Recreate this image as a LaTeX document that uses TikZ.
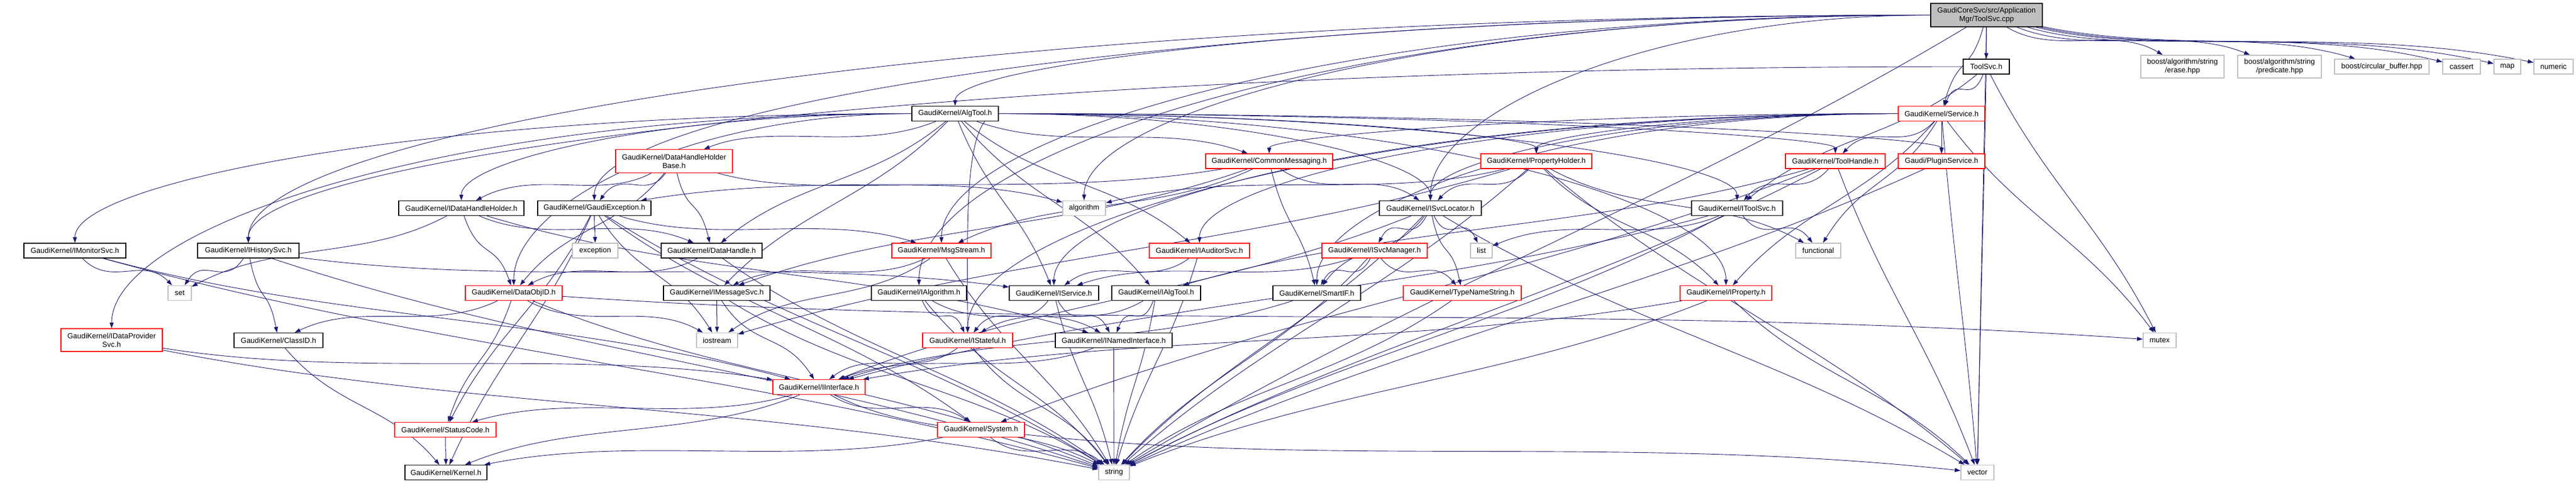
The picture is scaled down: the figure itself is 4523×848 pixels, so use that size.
\documentclass[tikz,border=0pt]{standalone}
\usepackage{fontspec}
\newfontfamily\nf{Liberation Sans}
\usetikzlibrary{arrows.meta,calc}
\pgfdeclarelayer{bg}
\pgfsetlayers{bg,main}
\definecolor{edgec}{RGB}{25,25,112}
\definecolor{gbord}{RGB}{191,191,191}
\definecolor{rootf}{RGB}{191,191,191}
\tikzset{
  nb/.style={draw, fill=white, inner sep=0pt, line width=1.2pt, minimum height=26pt, align=center, font=\nf\fontsize{13}{15}\selectfont},
  bnode/.style={nb, draw=black},
  rnode/.style={nb, draw=red},
  gnode/.style={nb, draw=gbord, line width=1.6pt},
  rootnode/.style={nb, draw=black, fill=rootf},
  ed/.style={draw=edgec, line width=0.9pt, -{Triangle[length=10pt,width=7pt]}}
}
\newcommand\E[2]{\draw[ed] (#1) .. controls ($(#1)!0.35!(#2)+(0,40)$) and ($(#2)!0.35!(#1)+(0,-40)$) .. (#2);}
\newcommand\LE[2]{\path ($(#1)!0.6!(#2)$) coordinate (pA) ($(#1)!0.5!(#2)$) coordinate (pB);
  \draw[ed] (#1) .. controls (#1 -| pA) and (#2 |- pB) .. (#2);}
\begin{document}
\begin{tikzpicture}[x=1pt,y=-1pt]
\useasboundingbox (0,0) rectangle (4523,848);
% row 0
\node[rootnode, minimum width=196pt, minimum height=41pt] (cpp) at (3488,26.5) {GaudiCoreSvc/src/Application\\Mgr/ToolSvc.cpp};
% row 1
\node[bnode, minimum width=81pt] (tsh) at (3487.5,117) {ToolSvc.h};
\node[gnode, minimum width=146pt, minimum height=40pt] (erase) at (3832,117) {boost/algorithm/string\\/erase.hpp};
\node[gnode, minimum width=147pt, minimum height=40pt] (pred) at (4002.5,117) {boost/algorithm/string\\/predicate.hpp};
\node[gnode, minimum width=166pt] (circ) at (4182,117) {boost/circular\_buffer.hpp};
\node[gnode, minimum width=66pt] (cassert) at (4322,117) {cassert};
\node[gnode, minimum width=47pt] (map) at (4402.5,117) {map};
\node[gnode, minimum width=69pt] (numeric) at (4483.5,117) {numeric};
% row 2
\node[bnode, minimum width=152pt] (algtool) at (1677,199.5) {GaudiKernel/AlgTool.h};
\node[rnode, minimum width=152pt] (service) at (3409,199.5) {GaudiKernel/Service.h};
% row 3
\node[rnode, minimum width=205pt, minimum height=41pt] (dhhb) at (1183.5,283) {GaudiKernel/DataHandleHolder\\Base.h};
\node[rnode, minimum width=223pt] (commsg) at (2228.5,283) {GaudiKernel/CommonMessaging.h};
\node[rnode, minimum width=195pt] (propholder) at (2697.5,283) {GaudiKernel/PropertyHolder.h};
\node[rnode, minimum width=175pt] (toolhandle) at (3222.5,283) {GaudiKernel/ToolHandle.h};
\node[rnode, minimum width=152pt] (plugin) at (3409,283) {Gaudi/PluginService.h};
% row 4
\node[bnode, minimum width=220pt] (idhh) at (810,365.5) {GaudiKernel/IDataHandleHolder.h};
\node[bnode, minimum width=199pt] (gexc) at (1043.5,365.5) {GaudiKernel/GaudiException.h};
\node[gnode, minimum width=75pt] (algorithm) at (1903.5,365.5) {algorithm};
\node[bnode, minimum width=179pt] (isvcloc) at (2511.5,365.5) {GaudiKernel/ISvcLocator.h};
\node[bnode, minimum width=160pt] (itoolsvc) at (3050,365.5) {GaudiKernel/IToolSvc.h};
% row 5
\node[bnode, minimum width=179pt] (imon) at (131.5,440) {GaudiKernel/IMonitorSvc.h};
\node[bnode, minimum width=178pt] (ihist) at (436,440) {GaudiKernel/IHistorySvc.h};
\node[gnode, minimum width=80pt] (exception) at (1045,440) {exception};
\node[bnode, minimum width=177pt] (dhandle) at (1249.5,440) {GaudiKernel/DataHandle.h};
\node[rnode, minimum width=174pt] (msgstream) at (1653,440) {GaudiKernel/MsgStream.h};
\node[rnode, minimum width=176pt] (iaud) at (2106,440) {GaudiKernel/IAuditorSvc.h};
\node[rnode, minimum width=185pt] (isvcman) at (2413.5,440) {GaudiKernel/ISvcManager.h};
\node[gnode, minimum width=38pt] (list) at (2601,440) {list};
\node[gnode, minimum width=79pt] (functional) at (3192.5,440) {functional};
% row 6
\node[gnode, minimum width=41pt] (set) at (315.5,514.5) {set};
\node[rnode, minimum width=170pt] (dataobjid) at (902,514.5) {GaudiKernel/DataObjID.h};
\node[bnode, minimum width=187pt] (imsgsvc) at (1258.5,514.5) {GaudiKernel/IMessageSvc.h};
\node[bnode, minimum width=167pt] (ialg) at (1613.5,514.5) {GaudiKernel/IAlgorithm.h};
\node[bnode, minimum width=157pt] (iservice) at (1850.5,514.5) {GaudiKernel/IService.h};
\node[bnode, minimum width=156pt] (ialgtool) at (2030,514.5) {GaudiKernel/IAlgTool.h};
\node[bnode, minimum width=154pt] (smartif) at (2312,514.5) {GaudiKernel/SmartIF.h};
\node[rnode, minimum width=207pt] (tns) at (2567.5,514.5) {GaudiKernel/TypeNameString.h};
\node[rnode, minimum width=161pt] (iprop) at (3030.5,514.5) {GaudiKernel/IProperty.h};
% row 7
\node[rnode, minimum width=178pt, minimum height=40pt] (idps) at (196,597) {GaudiKernel/IDataProvider\\Svc.h};
\node[bnode, minimum width=156pt] (classid) at (489,597.5) {GaudiKernel/ClassID.h};
\node[gnode, minimum width=72pt] (iostream) at (1259,597.5) {iostream};
\node[rnode, minimum width=158pt] (istateful) at (1699,597.5) {GaudiKernel/IStateful.h};
\node[bnode, minimum width=205pt] (inamed) at (1955.5,597.5) {GaudiKernel/INamedInterface.h};
\node[gnode, minimum width=58pt] (mutex) at (3792,597.5) {mutex};
% row 8
\node[rnode, minimum width=162pt] (iinterface) at (1438,679.5) {GaudiKernel/IInterface.h};
% row 9
\node[rnode, minimum width=178pt] (statuscode) at (782,754.5) {GaudiKernel/StatusCode.h};
\node[rnode, minimum width=153pt] (system) at (1722.5,754.5) {GaudiKernel/System.h};
% row 10
\node[bnode, minimum width=144pt] (kernel) at (783,829.5) {GaudiKernel/Kernel.h};
\node[gnode, minimum width=54pt] (string) at (1956,829.5) {string};
\node[gnode, minimum width=58pt] (vector) at (3472,829.5) {vector};

\begin{pgfonlayer}{bg}
% ToolSvc.cpp
\E{cpp}{tsh}\E{cpp}{service}\LE{cpp}{algtool}\LE{cpp}{gexc}\LE{cpp}{ihist}
\LE{cpp}{msgstream}\LE{cpp}{algorithm}\LE{cpp}{isvcloc}\LE{cpp}{ialg}
\E{cpp}{erase}\E{cpp}{pred}\E{cpp}{circ}\E{cpp}{cassert}\E{cpp}{map}\E{cpp}{numeric}
\E{cpp}{string}\E{cpp}{vector}
% ToolSvc.h
\E{tsh}{itoolsvc}\E{tsh}{service}\LE{tsh}{ihist}\E{tsh}{mutex}\E{tsh}{vector}
% AlgTool.h
\LE{algtool}{imon}\LE{algtool}{idps}\LE{algtool}{istateful}\LE{algtool}{dataobjid}
\LE{algtool}{idhh}\E{algtool}{dhhb}\E{algtool}{dhandle}\E{algtool}{commsg}
\LE{algtool}{propholder}\LE{algtool}{toolhandle}\LE{algtool}{plugin}\LE{algtool}{isvcloc}
\LE{algtool}{itoolsvc}\LE{algtool}{iprop}\E{algtool}{iaud}\E{algtool}{iservice}
\E{algtool}{ialgtool}\E{algtool}{imsgsvc}
% Service.h
\LE{service}{commsg}\LE{service}{propholder}\E{service}{toolhandle}\E{service}{plugin}
\LE{service}{isvcloc}\LE{service}{iaud}\E{service}{iprop}\LE{service}{iservice}
\LE{service}{istateful}\LE{service}{smartif}\E{service}{mutex}\E{service}{vector}
\E{service}{functional}
% DataHandleHolderBase.h
\E{dhhb}{idhh}\E{dhhb}{gexc}\E{dhhb}{dataobjid}\E{dhhb}{dhandle}\E{dhhb}{algorithm}
% CommonMessaging.h
\E{commsg}{gexc}\E{commsg}{isvcloc}\E{commsg}{smartif}\E{commsg}{msgstream}\E{commsg}{imsgsvc}
% PropertyHolder.h
\E{propholder}{algorithm}\E{propholder}{iostream}\E{propholder}{isvcloc}\E{propholder}{iprop}
\E{propholder}{functional}\E{propholder}{string}\E{propholder}{vector}
% ToolHandle.h
\E{toolhandle}{itoolsvc}\E{toolhandle}{ialgtool}\E{toolhandle}{system}\E{toolhandle}{string}\E{toolhandle}{vector}
% PluginService.h
\E{plugin}{string}
% IDataHandleHolder.h
\E{idhh}{set}\E{idhh}{dataobjid}\E{idhh}{dhandle}\E{idhh}{inamed}
% GaudiException.h
\E{gexc}{exception}\E{gexc}{msgstream}\E{gexc}{iostream}\E{gexc}{statuscode}
\E{gexc}{system}\E{gexc}{kernel}\E{gexc}{string}
% ISvcLocator.h
\E{isvcloc}{smartif}\E{isvcloc}{isvcman}\E{isvcloc}{list}\E{isvcloc}{tns}
\E{isvcloc}{iinterface}\E{isvcloc}{string}\E{isvcloc}{vector}
% IToolSvc.h
\E{itoolsvc}{list}\E{itoolsvc}{functional}\E{itoolsvc}{iinterface}\E{itoolsvc}{string}
% row 5 sources
\E{imon}{set}\E{imon}{iinterface}\E{imon}{string}
\E{ihist}{set}\E{ihist}{classid}\E{ihist}{iservice}\E{ihist}{string}
\E{dhandle}{dataobjid}\E{dhandle}{string}
\E{msgstream}{imsgsvc}\E{msgstream}{iostream}\E{msgstream}{string}
\E{iaud}{iservice}\E{iaud}{string}
\E{isvcman}{smartif}\E{isvcman}{tns}\E{isvcman}{iservice}\E{isvcman}{string}
% row 6 sources
\E{dataobjid}{classid}\E{dataobjid}{statuscode}\E{dataobjid}{iostream}\E{dataobjid}{mutex}\E{dataobjid}{string}
\E{imsgsvc}{iostream}\E{imsgsvc}{iinterface}\E{imsgsvc}{string}
\E{ialg}{istateful}\E{ialg}{inamed}\E{ialg}{string}
\E{iservice}{istateful}\E{iservice}{inamed}\E{iservice}{string}
\E{ialgtool}{istateful}\E{ialgtool}{inamed}\E{ialgtool}{string}
\E{smartif}{iinterface}
\E{tns}{string}
\E{iprop}{iinterface}\E{iprop}{string}\E{iprop}{vector}
% row 7 sources
\E{idps}{iinterface}\E{idps}{string}
\E{classid}{kernel}
\E{istateful}{iinterface}\E{istateful}{string}
\E{inamed}{iinterface}\E{inamed}{string}
% lower rows
\E{iinterface}{statuscode}\E{iinterface}{system}\E{iinterface}{kernel}\E{iinterface}{string}
\E{statuscode}{kernel}
\E{system}{kernel}\E{system}{string}\E{system}{vector}
\end{pgfonlayer}
\end{tikzpicture}
\end{document}
